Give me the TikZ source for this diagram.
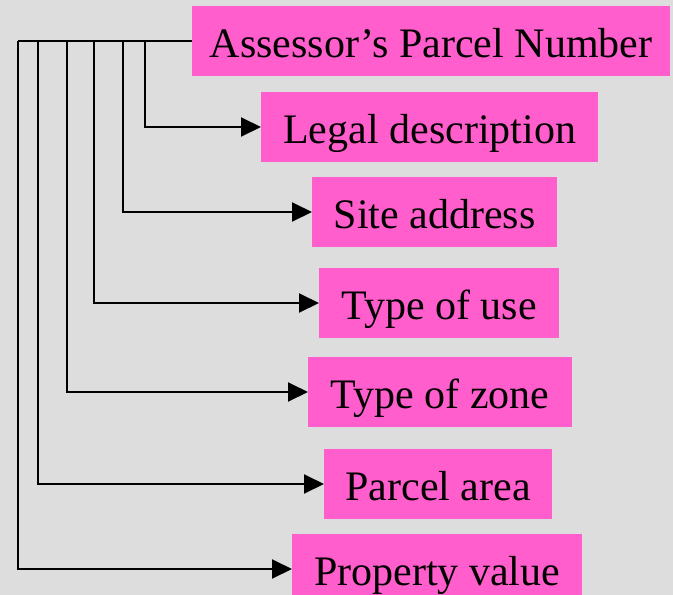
\documentclass[tikz,border=0pt]{standalone}
\usepackage{fontspec}
\setmainfont{Liberation Serif}
\usetikzlibrary{arrows.meta}
\definecolor{marble}{RGB}{221,221,221}
\definecolor{tagpink}{RGB}{255,94,204}
\begin{document}
\begin{tikzpicture}[x=1pt,y=-1pt,
  field/.style={fill=tagpink, anchor=west, minimum height=70pt,
    inner xsep=0pt, inner ysep=10pt, text height=41pt, text depth=9pt,
    font=\fontsize{42}{50}\selectfont},
  trunk/.style={line width=2pt},
  link/.style={line width=2pt, -{Triangle[length=20pt,width=19pt]}}]

% page and background
\fill[marble] (0,0) rectangle (673,595);
\useasboundingbox (0,0) rectangle (673,595);

% record fields
\node[field, minimum width=478pt] (apn)    at (192,41)  {Assessor’s Parcel Number};
\node[field, minimum width=337pt] (legal)  at (261,127) {Legal description};
\node[field, minimum width=245pt] (site)   at (312,212) {Site address};
\node[field, minimum width=240pt] (use)    at (319,303) {Type of use};
\node[field, minimum width=264pt] (zone)   at (308,392) {Type of zone};
\node[field, minimum width=228pt] (area)   at (324,484) {Parcel area};
\node[field, minimum width=290pt] (value)  at (292,569) {Property value};

% branch points on the common trunk
\coordinate (corner) at (18,41);
\coordinate (s1) at (145,41);
\coordinate (s2) at (123,41);
\coordinate (s3) at (94,41);
\coordinate (s4) at (67,41);
\coordinate (s5) at (38,41);

% connectors
\draw[trunk] (apn.west) -- (corner);
\draw[link] (s1) |- (legal.west);
\draw[link] (s2) |- (site.west);
\draw[link] (s3) |- (use.west);
\draw[link] (s4) |- (zone.west);
\draw[link] (s5) |- (area.west);
\draw[link] (corner) |- (value.west);
\end{tikzpicture}
\end{document}
